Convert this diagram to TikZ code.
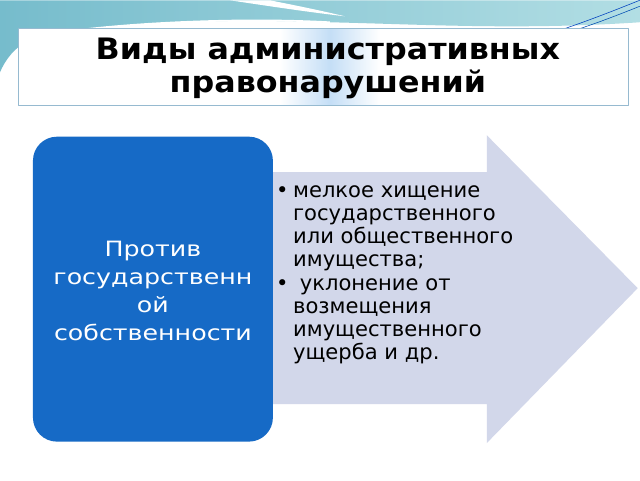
\documentclass[tikz,border=0pt]{standalone}
\usepackage{fontspec}
\setmainfont{DejaVu Sans}
\newfontfamily\titlefont[FakeStretch=1.075]{DejaVu Sans}
\newfontfamily\groupfont[FakeStretch=1.2]{DejaVu Sans}
\usetikzlibrary{positioning}

\definecolor{tealdark}{RGB}{118,188,204}
\definecolor{teallight}{RGB}{178,222,228}
\definecolor{titleline}{RGB}{150,186,208}
\definecolor{titleglow}{RGB}{196,222,246}
\definecolor{boxblue}{RGB}{22,106,198}
\definecolor{arrowfill}{RGB}{210,215,234}

\begin{document}
\begin{tikzpicture}
		[x=0.025cm,y=-0.025cm,line join=round,
		%Styles
		title box/.style={draw=titleline,fill=white,minimum width=15.25cm,minimum height=1.925cm,inner sep=0pt},
		title text/.style={font=\titlefont\fontsize{21}{23.7}\selectfont\bfseries,align=center,text=black},
		group box/.style={fill=boxblue,rounded corners=0.6cm,minimum width=6cm,minimum height=7.625cm,inner sep=0pt},
		group text/.style={font=\groupfont\fontsize{15}{19.8}\selectfont,align=center,text=white},
		item text/.style={font=\fontsize{15}{16.5}\selectfont,align=left,text=black,inner sep=0pt}
		]
		
		%Background
		\fill[white] (0,0) rectangle (640,480);
		\shade[left color=tealdark,right color=teallight]
			(0,0) -- (640,0) -- (640,22) .. controls (520,30) and (420,24) .. (330,22)
			.. controls (220,18) and (90,22) .. (30,40) .. controls (15,46) and (5,60) .. (0,72) -- cycle;
		\fill[white] (230,0) .. controls (270,6) and (310,12) .. (345,16)
			.. controls (320,10) and (290,4) .. (270,0) -- cycle;
		\draw[white,line width=1.2pt] (60,32) .. controls (150,20) and (260,18) .. (330,22);
		\draw[blue!50!teal,thin] (560,30) .. controls (590,20) and (620,8) .. (640,0);
		\draw[blue!40!teal,thin] (575,30) .. controls (600,22) and (625,12) .. (640,6);
		
		%Title
		\node[title box] (titlebox) at (323,66.5) {};
		\shade[left color=white,right color=white,middle color=titleglow]
			(280,29) rectangle (380,104);
		\node[title text] (title) at (328,68) {Виды административных\\правонарушений};
		
		%Arrow
		\fill[arrowfill] (270,172) -- (487,172) -- (487,135) -- (638,288)
			-- (487,443) -- (487,404) -- (270,404) -- cycle;
		\coordinate (arrowstart) at (293,185);
		\node[item text,anchor=north west] (items) at (arrowstart)
			{\llap{•\hspace{8\pgflinewidth}}мелкое хищение\\
			государственного\\
			или общественного\\
			имущества;\\
			\llap{•\hspace{8\pgflinewidth}}\ уклонение от\\
			возмещения\\
			имущественного\\
			ущерба и др.};
		
		%Group
		\node[group box] (group) at (153,289) {};
		\node[group text] (grouplabel) at (153,291) {Против\\государственн\\ой\\собственности};
	\end{tikzpicture}
\end{document}
